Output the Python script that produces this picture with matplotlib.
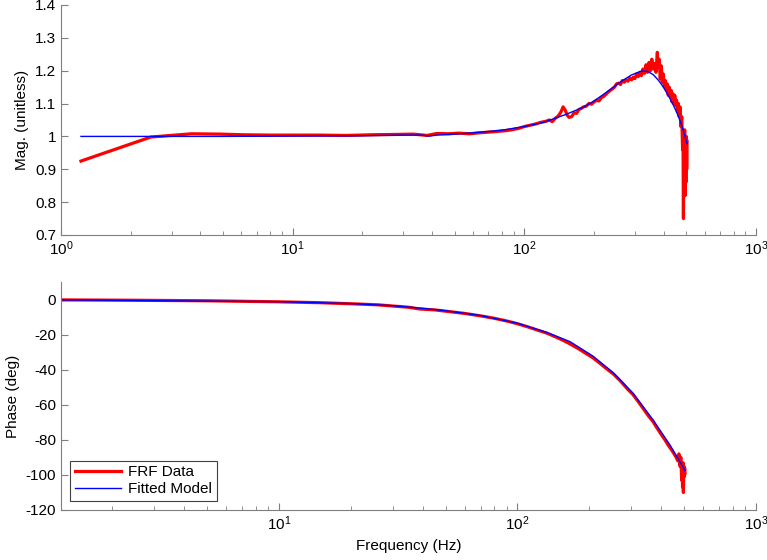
import matplotlib
matplotlib.use("Agg")
import matplotlib.pyplot as plt
from matplotlib.ticker import FormatStrFormatter, LogLocator, NullFormatter

plt.rcParams['font.family'] = ['Liberation Sans', 'DejaVu Sans']
plt.rcParams['mathtext.fontset'] = 'custom'
plt.rcParams['mathtext.rm'] = 'Liberation Sans'
plt.rcParams['font.size'] = 11
plt.rcParams['axes.unicode_minus'] = False

# magnitude, measured FRF
mag_freq = [1.22, 2.44, 3.66, 4.88, 6.1, 8, 10, 13, 17, 22, 28, 33, 38, 42, 47, 52, 58, 64,
            70, 76, 82, 88, 94, 100, 106, 112, 118, 124, 128, 132, 136, 140, 144, 147, 150,
            153, 156, 160, 164, 168, 172, 176, 180, 185, 190, 195, 200, 205, 210, 215, 220,
            225, 230, 235, 240, 245, 250, 255, 260, 265, 270, 275, 280, 285, 290, 295, 300,
            305, 310, 315, 320, 325, 330, 335, 340, 345, 350, 355, 360, 365, 370, 375, 378,
            382, 386, 390, 394, 398, 402, 406, 410, 414, 418, 422, 426, 430, 434, 438, 442,
            446, 450, 454, 458, 462, 466, 470, 474, 478, 482, 484, 486, 488, 490, 492, 494,
            496, 498, 500, 502, 504]
mag_frf = [0.925, 0.998, 1.008, 1.007, 1.005, 1.004, 1.004, 1.004, 1.003, 1.005, 1.006, 1.007,
           1.003, 1.009, 1.008, 1.010, 1.008, 1.011, 1.013, 1.015, 1.017, 1.020, 1.024, 1.030,
           1.034, 1.038, 1.043, 1.046, 1.050, 1.045, 1.055, 1.062, 1.075, 1.090, 1.080, 1.065,
           1.058, 1.060, 1.072, 1.070, 1.082, 1.085, 1.090, 1.092, 1.100, 1.098, 1.105, 1.110,
           1.108, 1.118, 1.122, 1.128, 1.135, 1.140, 1.145, 1.150, 1.160, 1.162, 1.158, 1.170,
           1.165, 1.172, 1.168, 1.178, 1.172, 1.180, 1.176, 1.190, 1.182, 1.195, 1.185, 1.205,
           1.192, 1.218, 1.195, 1.225, 1.200, 1.235, 1.205, 1.222, 1.195, 1.256, 1.210, 1.235,
           1.175, 1.215, 1.165, 1.190, 1.150, 1.170, 1.140, 1.160, 1.125, 1.150, 1.120, 1.140,
           1.105, 1.130, 1.100, 1.125, 1.095, 1.110, 1.075, 1.100, 1.060, 1.090, 1.030, 1.060,
           0.960, 1.010, 0.750, 0.950, 0.880, 1.020, 0.820, 0.990, 0.860, 1.000, 0.900, 0.985]

# magnitude, fitted model
fit_freq = [1.22, 5, 10, 20, 30, 36, 39, 42, 50, 60, 70, 80, 100, 120, 150, 180, 200, 230,
            260, 290, 320, 340, 360, 380, 400, 420, 440, 460, 480, 504]
mag_fit = [1.000, 1.000, 1.001, 1.002, 1.004, 1.004, 1.001, 1.004, 1.007, 1.011, 1.015, 1.019,
           1.030, 1.042, 1.066, 1.089, 1.108, 1.138, 1.166, 1.187, 1.199, 1.198, 1.188, 1.170,
           1.148, 1.122, 1.095, 1.065, 1.030, 0.978]

# phase, measured FRF
ph_freq = [1.22, 2.44, 5, 10, 15, 20, 26, 30, 35, 39, 45, 52, 60, 70, 80, 90, 100, 110, 120,
           133, 145, 155, 166, 180, 195, 207, 220, 235, 252, 270, 290, 305, 320, 340, 355, 370,
           385, 400, 415, 430, 445, 460, 470, 475, 480, 484, 488, 490, 492, 494, 496, 498, 500,
           502, 504]
ph_frf = [-0.2, -0.4, -0.7, -1.3, -1.8, -2.4, -3.0, -3.7, -4.4, -5.4, -5.9, -6.9, -7.9, -9.3,
          -10.7, -12.2, -13.8, -15.5, -17.2, -19.2, -21.4, -23.2, -25.3, -28.0, -31.0, -33.2,
          -36.0, -39.2, -42.4, -46.4, -51.2, -54.2, -58.0, -63.0, -66.6, -69.6, -73.4, -76.8,
          -80.0, -83.4, -86.2, -89.4, -92.0, -88.0, -95.0, -90.0, -103.0, -94.0, -107.0, -93.0,
          -110.0, -95.0, -101.0, -96.0, -99.0]

# phase, fitted model
phf_freq = [1.22, 10, 20, 30, 40, 50, 70, 100, 133, 166, 207, 252, 305, 370, 436, 470, 504]
ph_fit = [-0.2, -1.2, -2.3, -3.5, -5.0, -6.4, -9.1, -13.5, -18.8, -24.0, -32.2, -41.7, -53.4,
          -68.6, -83.0, -90.5, -97.5]

fig = plt.figure(figsize=(7.67, 5.6), dpi=100)
ax1 = fig.add_axes([0.0795, 0.5804, 0.9062, 0.4107])
ax2 = fig.add_axes([0.0795, 0.0893, 0.9062, 0.4071])

ax1.plot(mag_freq, mag_frf, color='#ff0000', lw=2.3, label='FRF Data')
ax1.plot(fit_freq, mag_fit, color='#0000ff', lw=1.0, label='Fitted Model')
ax2.plot(ph_freq, ph_frf, color='#ff0000', lw=2.3, label='FRF Data')
ax2.plot(phf_freq, ph_fit, color='#0000ff', lw=1.0, label='Fitted Model')

for ax in (ax1, ax2):
    ax.set_xscale('log')
    for s in ('top', 'right'):
        ax.spines[s].set_visible(False)
    for s in ('left', 'bottom'):
        ax.spines[s].set_color('#7f7f7f')
        ax.spines[s].set_linewidth(0.8)
    ax.tick_params(which='both', direction='in', color='#7f7f7f', labelsize=11)
    ax.tick_params(which='major', length=5)
    ax.tick_params(which='minor', length=3)
    ax.xaxis.set_minor_locator(LogLocator(base=10, subs=range(2, 10)))
    ax.xaxis.set_minor_formatter(NullFormatter())

ax1.set_xlim(1, 1000)
ax1.set_ylim(0.7, 1.4)
ax1.set_yticks([0.7, 0.8, 0.9, 1.0, 1.1, 1.2, 1.3, 1.4])
ax1.yaxis.set_major_formatter(FormatStrFormatter('%g'))
ax1.set_ylabel('Mag. (unitless)')

ax2.set_xlim(1.22, 1000)
ax2.set_ylim(-120, 10)
ax2.set_yticks([-120, -100, -80, -60, -40, -20, 0])
ax2.set_ylabel('Phase (deg)')
ax2.set_xlabel('Frequency (Hz)')

leg = ax2.legend(loc='lower left', fancybox=False, framealpha=1, borderpad=0.3,
                 handlelength=3, borderaxespad=0.6, handletextpad=0.5,
                 labelspacing=0.2)
leg.get_frame().set_edgecolor('#404040')
leg.get_frame().set_linewidth(0.8)

fig.savefig('out.png', dpi=100)
